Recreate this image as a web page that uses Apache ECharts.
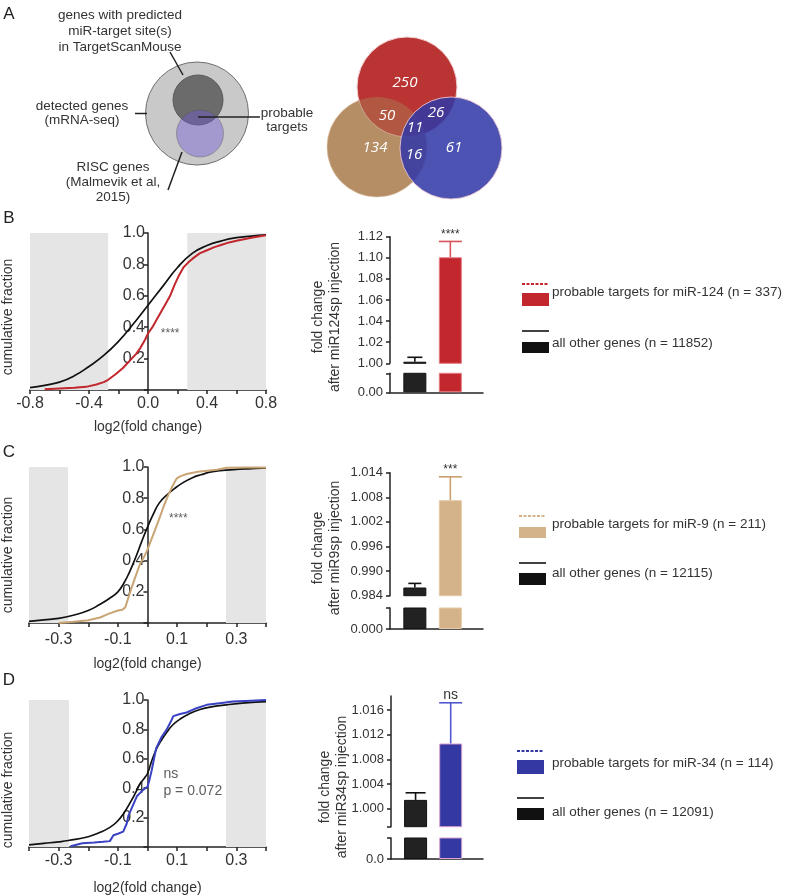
<!DOCTYPE html>
<html><head><meta charset="utf-8">
<script src="https://cdn.jsdelivr.net/npm/echarts@6/dist/echarts.min.js"></script>
<style>html,body{margin:0;padding:0;background:#fff}#c{width:787px;height:896px}</style>
</head><body><div id="c"></div>
<script>
const FONT = 'Liberation Sans, Arial, Helvetica, sans-serif';

// ---------- Panel A ----------
const schematicLabels = ['genes with predicted\nmiR-target site(s)\nin TargetScanMouse', 'detected genes\n(mRNA-seq)', 'probable\ntargets', 'RISC genes\n(Malmevik et al,\n2015)'];
const vennCounts = ['250', '50', '26', '11', '134', '16', '61'];

// ---------- Panel B (miR-124) ----------
const bAllGenes = [[-0.8,0.015],[-0.7,0.03],[-0.6,0.05],[-0.5,0.09],[-0.4,0.15],[-0.3,0.22],[-0.2,0.31],[-0.1,0.42],[0,0.54],[0.1,0.66],[0.2,0.78],[0.3,0.87],[0.4,0.92],[0.5,0.95],[0.6,0.97],[0.7,0.98],[0.8,0.988]];
const bTargets = [[-0.7,0.005],[-0.6,0.01],[-0.5,0.015],[-0.42,0.02],[-0.35,0.035],[-0.3,0.05],[-0.27,0.065],[-0.22,0.1],[-0.17,0.14],[-0.12,0.19],[-0.08,0.23],[-0.05,0.27],[-0.02,0.32],[0,0.36],[0.03,0.4],[0.06,0.45],[0.09,0.5],[0.12,0.55],[0.15,0.6],[0.18,0.67],[0.21,0.73],[0.24,0.78],[0.27,0.81],[0.3,0.835],[0.35,0.87],[0.4,0.89],[0.45,0.91],[0.5,0.925],[0.55,0.94],[0.6,0.95],[0.65,0.96],[0.7,0.97],[0.75,0.978],[0.8,0.985]];
const bBarMean = [1.0015, 1.1005];
const bBarSem = [0.0042, 0.015];
const bSig = ['', '****'];
const bLegend = ['probable targets for miR-124 (n = 337)', 'all other genes (n = 11852)'];

// ---------- Panel C (miR-9) ----------
const cAllGenes = [[-0.4,0.01],[-0.35,0.02],[-0.3,0.03],[-0.25,0.05],[-0.2,0.08],[-0.16,0.12],[-0.13,0.155],[-0.1,0.2],[-0.08,0.255],[-0.06,0.33],[-0.04,0.42],[-0.02,0.52],[0,0.615],[0.02,0.7],[0.04,0.77],[0.065,0.82],[0.09,0.86],[0.12,0.9],[0.15,0.93],[0.18,0.95],[0.22,0.97],[0.29,0.983],[0.35,0.99],[0.4,0.995]];
const cTargets = [[-0.3,0.0],[-0.25,0.008],[-0.2,0.018],[-0.16,0.035],[-0.13,0.06],[-0.1,0.08],[-0.085,0.085],[-0.075,0.1],[-0.065,0.16],[-0.053,0.23],[-0.04,0.3],[-0.025,0.38],[-0.01,0.43],[0,0.47],[0.01,0.52],[0.02,0.57],[0.03,0.62],[0.042,0.68],[0.055,0.75],[0.07,0.82],[0.085,0.88],[0.098,0.925],[0.11,0.94],[0.132,0.955],[0.17,0.97],[0.234,0.983],[0.267,0.995],[0.33,0.996],[0.4,0.997]];
const cBarMean = [0.986, 1.0073];
const cBarSem = [0.001, 0.0057];
const cSig = ['', '***'];
const cLegend = ['probable targets for miR-9 (n = 211)', 'all other genes (n = 12115)'];

// ---------- Panel D (miR-34) ----------
const dAllGenes = [[-0.4,0.015],[-0.35,0.025],[-0.3,0.035],[-0.267,0.044],[-0.2,0.07],[-0.16,0.1],[-0.13,0.13],[-0.104,0.17],[-0.08,0.23],[-0.059,0.3],[-0.04,0.37],[-0.025,0.43],[-0.01,0.47],[0,0.5],[0.015,0.59],[0.031,0.67],[0.048,0.73],[0.065,0.78],[0.085,0.83],[0.11,0.87],[0.14,0.905],[0.177,0.935],[0.22,0.955],[0.265,0.967],[0.33,0.98],[0.4,0.989]];
const dTargets = [[-0.26,0.005],[-0.24,0.015],[-0.22,0.025],[-0.18,0.03],[-0.15,0.035],[-0.127,0.04],[-0.115,0.08],[-0.1,0.09],[-0.082,0.105],[-0.07,0.16],[-0.065,0.21],[-0.05,0.28],[-0.036,0.345],[-0.014,0.39],[0,0.41],[0.007,0.46],[0.014,0.52],[0.022,0.6],[0.029,0.67],[0.048,0.75],[0.065,0.8],[0.078,0.85],[0.087,0.89],[0.11,0.905],[0.132,0.915],[0.16,0.94],[0.2,0.967],[0.25,0.98],[0.29,0.989],[0.35,0.995],[0.4,1.0]];
const dBarMean = [1.00145, 1.0106];
const dBarSem = [0.00115, 0.0066];
const dSig = ['', 'ns'];
const dBarTicks = [1.000, 1.004, 1.008, 1.012, 1.016];
const dLegend = ['probable targets for miR-34 (n = 114)', 'all other genes (n = 12091)'];

const barGroups = ['all other genes', 'probable targets'];

// ---------- builders ----------
const grids = [], xAxes = [], yAxes = [], series = [], graphics = [];
const AX = {color: '#222', width: 1.5};
const TXT = '#333';

function addCdf(o) {
  const gi = grids.length;
  grids.push({left: o.box[0], top: o.box[1], width: o.box[2], height: o.box[3]});
  xAxes.push({gridIndex: gi, type: 'value', min: o.xr[0], max: o.xr[1], interval: o.xi,
    name: 'log2(fold change)', nameLocation: 'middle', nameGap: o.nameGap,
    nameTextStyle: {fontSize: 14, color: TXT, fontFamily: FONT},
    axisLine: {onZero: false, lineStyle: AX}, axisTick: {length: 4, lineStyle: AX},
    axisLabel: {margin: o.labelMargin, fontSize: 16, color: TXT, fontFamily: FONT, formatter: o.xFmt},
    splitLine: {show: false}});
  // y axis sits at x = 0: shift it from the grid's left edge by the scale position of zero
  const zeroShift = o.box[2] * (0 - o.xr[0]) / (o.xr[1] - o.xr[0]);
  yAxes.push({gridIndex: gi, type: 'value', min: 0, max: 1, interval: 0.2, offset: -zeroShift,
    axisLine: {onZero: false, lineStyle: AX}, axisTick: {length: 4, lineStyle: AX},
    axisLabel: {margin: 3, fontSize: 16, color: TXT, fontFamily: FONT, formatter: v => v < 0.01 ? '' : v.toFixed(1)},
    splitLine: {show: false}});
  series.push({type: 'line', xAxisIndex: gi, yAxisIndex: gi, data: [], z: 1, silent: true,
    markArea: {silent: true, itemStyle: {color: '#e5e5e5'},
      data: [[{coord: [o.xr[0], 0]}, {coord: [o.shade[0], 1]}], [{coord: [o.shade[1], 0]}, {coord: [o.xr[1], 1]}]]}});
  series.push({type: 'line', xAxisIndex: gi, yAxisIndex: gi, data: o.all, smooth: true, symbol: 'none',
    lineStyle: {color: '#111', width: 1.7}, z: 3, silent: true});
  series.push({type: 'line', xAxisIndex: gi, yAxisIndex: gi, data: o.tgt, symbol: 'none',
    lineStyle: {color: o.color, width: 2}, z: 4, silent: true});
  series.push({type: 'scatter', xAxisIndex: gi, yAxisIndex: gi, data: [o.stat.pos], symbolSize: 1,
    itemStyle: {color: 'rgba(0,0,0,0)'}, z: 5, silent: true,
    label: {show: true, position: o.stat.position, distance: 0, formatter: o.stat.text, color: TXT,
      fontSize: o.stat.size, fontFamily: FONT, lineHeight: 17, align: o.stat.align}});
}

function addBars(o) {
  const xr = [-0.7, 1.92];
  const gu = grids.length;
  grids.push({left: o.left, top: o.upper[0], width: o.width, height: o.upper[1]});
  xAxes.push({gridIndex: gu, type: 'value', min: xr[0], max: xr[1], show: false});
  const ya = {gridIndex: gu, type: 'value', min: o.yr[0], max: o.yr[1],
    axisLine: {show: true, onZero: false, lineStyle: AX}, axisTick: {show: true, length: 4, lineStyle: AX},
    axisLabel: {margin: 7, fontSize: 13, color: TXT, fontFamily: FONT, formatter: v => v.toFixed(o.dec)},
    splitLine: {show: false}};
  if (o.yi) ya.interval = o.yi;
  if (o.ticks) { ya.axisLabel.customValues = o.ticks; ya.axisTick.customValues = [o.yr[0]].concat(o.ticks); }
  yAxes.push(ya);
  const gl = grids.length;
  grids.push({left: o.left, top: o.lower[0], width: o.width, height: o.lower[1]});
  xAxes.push({gridIndex: gl, type: 'value', min: xr[0], max: xr[1],
    axisLine: {show: true, onZero: false, lineStyle: AX}, axisTick: {show: false}, axisLabel: {show: false}, splitLine: {show: false}});
  yAxes.push({gridIndex: gl, type: 'value', min: 0, max: 0.5, interval: 0.5,
    axisLine: {show: true, onZero: false, lineStyle: AX}, axisTick: {show: true, length: 4, lineStyle: AX},
    axisLabel: {margin: 7, fontSize: 13, color: TXT, fontFamily: FONT, formatter: v => v === 0 ? o.zero : ''},
    splitLine: {show: false}});
  const barData = o.mean.map((m, i) => ({name: barGroups[i], value: [i, m],
    itemStyle: {color: o.fill[i], borderColor: o.border[i], borderWidth: 1}}));
  series.push({type: 'bar', xAxisIndex: gu, yAxisIndex: gu, data: barData, barWidth: 23, clip: true, silent: true});
  series.push({type: 'bar', xAxisIndex: gl, yAxisIndex: gl, data: barData, barWidth: 23, clip: true, silent: true});
  series.push({type: 'custom', xAxisIndex: gu, yAxisIndex: gu, z: 4, silent: true, clip: false,
    data: o.mean.map((m, i) => [i, m, o.sem[i]]),
    encode: {x: 0, y: 1},
    renderItem: (params, api) => {
      const i = params.dataIndex;
      const x = api.value(0), m = api.value(1), s = api.value(2);
      const a = api.coord([x, m]), b = api.coord([x, m + s]);
      const hw = o.capW[i] / 2;
      const st = {stroke: o.err[i], lineWidth: 1.6};
      const ch = [
        {type: 'line', shape: {x1: a[0], y1: a[1], x2: b[0], y2: b[1]}, style: st},
        {type: 'line', shape: {x1: b[0] - hw, y1: b[1], x2: b[0] + hw, y2: b[1]}, style: st}];
      if (o.sig[i]) ch.push({type: 'text', x: b[0], y: b[1] - 1,
        style: {text: o.sig[i], align: 'center', verticalAlign: 'bottom', fontSize: o.sigSize, fontFamily: FONT, fill: TXT}});
      return {type: 'group', children: ch};
    }});
  graphics.push({type: 'text', x: o.title[0], y: o.title[1], rotation: Math.PI / 2,
    style: {text: o.titleText, align: 'center', verticalAlign: 'middle', fontSize: 14, lineHeight: 17, fontFamily: FONT, fill: TXT}});
}

function addLegend(x, ys, color, labels) {
  const [yl, yr1, yr2, yb, ybr1, ybr2, yt1, yt2] = ys;
  graphics.push({type: 'line', shape: {x1: x, y1: yl, x2: x + 27, y2: yl}, style: {stroke: color, lineWidth: 2, lineDash: [3, 1.5]}});
  graphics.push({type: 'rect', shape: {x: x, y: yr1, width: 27, height: yr2 - yr1}, style: {fill: color}});
  graphics.push({type: 'line', shape: {x1: x, y1: yb, x2: x + 27, y2: yb}, style: {stroke: '#111', lineWidth: 1.6}});
  graphics.push({type: 'rect', shape: {x: x, y: ybr1, width: 27, height: ybr2 - ybr1}, style: {fill: '#111'}});
  graphics.push({type: 'text', x: 552, y: yt1, style: {text: labels[0], verticalAlign: 'middle', fontSize: 13.5, fontFamily: FONT, fill: TXT}});
  graphics.push({type: 'text', x: 552, y: yt2, style: {text: labels[1], verticalAlign: 'middle', fontSize: 13.5, fontFamily: FONT, fill: TXT}});
}

const RED = '#c1272d', TAN = '#d4b38a', BLUE = '#3438a2';

// B
addCdf({box: [30, 233, 236, 157], xr: [-0.8, 0.8], xi: 0.2, nameGap: 30, labelMargin: 6,
  xFmt: v => (Math.abs(Math.round(v * 10)) % 4 === 0) ? (Math.abs(v) < 1e-9 ? '0.0' : v.toFixed(1)) : '',
  shade: [-0.27, 0.266], all: bAllGenes, tgt: bTargets, color: RED,
  stat: {pos: [0.15, 0.36], text: '****', size: 12, position: 'inside', align: 'center'}});
addBars({left: 390, width: 93, upper: [236.7, 126.6], lower: [373.3, 19], yr: [1.00, 1.12], yi: 0.02, dec: 2, zero: '0.00',
  mean: bBarMean, sem: bBarSem, fill: ['#222', RED], border: ['#111', '#e57a80'], err: ['#111', '#d9545a'], capW: [15, 23],
  sig: bSig, sigSize: 12, title: [326.5, 317], titleText: 'fold change\nafter miR124sp injection'});
addLegend(522, [284, 293, 306, 331, 342, 353, 292, 343], RED, bLegend);

// C
const oddFmt = v => { const k = Math.round(v * 10); return (Math.abs(k) % 2 === 1) ? v.toFixed(1) : ''; };
addCdf({box: [29, 467, 237, 156], xr: [-0.4, 0.4], xi: 0.1, nameGap: 34, labelMargin: 9, xFmt: oddFmt,
  shade: [-0.268, 0.265], all: cAllGenes, tgt: cTargets, color: '#c9a574',
  stat: {pos: [0.104, 0.67], text: '****', size: 12, position: 'inside', align: 'center'}});
addBars({left: 390, width: 93, upper: [472.7, 123], lower: [608, 21], yr: [0.984, 1.014], yi: 0.006, dec: 3, zero: '0.000',
  mean: cBarMean, sem: cBarSem, fill: ['#222', TAN], border: ['#111', '#e3c9a5'], err: ['#111', '#c9a070'], capW: [13, 23],
  sig: cSig, sigSize: 12, title: [326.5, 548], titleText: 'fold change\nafter miR9sp injection'});
addLegend(519, [516, 527, 538, 563, 573, 585, 524, 573], TAN, cLegend);

// D
addCdf({box: [29, 700, 237, 152.7], xr: [-0.4, 0.4], xi: 0.1, nameGap: 34, labelMargin: 6, xFmt: oddFmt,
  shade: [-0.265, 0.265], all: dAllGenes, tgt: dTargets, color: '#3a42c4',
  stat: {pos: [0.052, 0.44], text: 'ns\np = 0.072', size: 14, position: 'right', align: 'left'}});
addBars({left: 391, width: 92, upper: [696, 130.7], lower: [838, 21], yr: [0.9971, 1.0183], ticks: dBarTicks, dec: 3, zero: '0.0',
  mean: dBarMean, sem: dBarSem, fill: ['#222', BLUE], border: ['#111', '#d9a0d0'], err: ['#111', '#5058d0'], capW: [20, 23],
  sig: dSig, sigSize: 14, title: [334, 787], titleText: 'fold change\nafter miR34sp injection'});
addLegend(517, [751, 760, 774, 798, 808, 820, 763, 812], BLUE, dLegend);

// CDF y titles and panel letters
[[8, 317], [8, 555], [8, 790]].forEach(p => graphics.push({type: 'text', x: p[0], y: p[1], rotation: Math.PI / 2,
  style: {text: 'cumulative fraction', align: 'center', verticalAlign: 'middle', fontSize: 14, fontFamily: FONT, fill: TXT}}));
[['A', 9, 14], ['B', 9, 218], ['C', 9, 452], ['D', 9, 680]].forEach(p => graphics.push({type: 'text', x: p[1], y: p[2],
  style: {text: p[0], align: 'center', verticalAlign: 'middle', fontSize: 17, fontFamily: FONT, fill: '#222'}}));

// Panel A schematic
graphics.push(
  {type: 'circle', shape: {cx: 197, cy: 113.5, r: 51.5}, style: {fill: '#c9c9c9', stroke: '#707070', lineWidth: 1}},
  {type: 'circle', shape: {cx: 198, cy: 100, r: 25}, style: {fill: '#6b6b6b', stroke: '#5a5a5a', lineWidth: 1}},
  {type: 'circle', shape: {cx: 200, cy: 133.5, r: 23.5}, style: {fill: '#7257d6', opacity: 0.42, stroke: '#555', lineWidth: 1}},
  {type: 'line', shape: {x1: 135, y1: 113.5, x2: 147, y2: 113.5}, style: {stroke: '#222', lineWidth: 1.5}},
  {type: 'line', shape: {x1: 170, y1: 52, x2: 183, y2: 75}, style: {stroke: '#222', lineWidth: 1.5}},
  {type: 'line', shape: {x1: 198, y1: 117, x2: 260, y2: 117}, style: {stroke: '#222', lineWidth: 1.5}},
  {type: 'line', shape: {x1: 182, y1: 152, x2: 168, y2: 190}, style: {stroke: '#222', lineWidth: 1.5}}
);
[[schematicLabels[0], 120, 31, 16], [schematicLabels[1], 82, 113.5, 14], [schematicLabels[2], 287, 120, 14], [schematicLabels[3], 113, 182, 15]]
  .forEach(t => graphics.push({type: 'text', x: t[1], y: t[2],
    style: {text: t[0], align: 'center', verticalAlign: 'middle', fontSize: 13.5, lineHeight: t[3], fontFamily: FONT, fill: TXT}}));

// Venn
graphics.push(
  {type: 'circle', shape: {cx: 377, cy: 147, r: 50}, style: {fill: '#c4a27c', stroke: '#f3e3d3', lineWidth: 1}},
  {type: 'circle', shape: {cx: 407, cy: 87, r: 50}, style: {fill: '#bb3434', stroke: '#f3d3d3', lineWidth: 1}},
  {type: 'circle', shape: {cx: 377, cy: 147, r: 50}, style: {fill: '#a87a50', opacity: 0.5}},
  {type: 'circle', shape: {cx: 451, cy: 148, r: 51}, style: {fill: '#3339a6', opacity: 0.87, stroke: '#f0c8d2', lineWidth: 1}}
);
const vennPos = [[405, 83], [387, 116], [436, 113], [415, 128], [375, 148], [414, 155], [454, 148]];
vennCounts.forEach((t, i) => graphics.push({type: 'text', x: vennPos[i][0], y: vennPos[i][1],
  style: {text: t, align: 'center', verticalAlign: 'middle', fontSize: 15, fontStyle: 'italic', fontFamily: 'Open Sans, ' + FONT, fill: '#fff'}}));

const chart = echarts.init(document.getElementById('c'));
chart.setOption({
  animation: false,
  backgroundColor: '#fff',
  textStyle: {fontFamily: FONT},
  grid: grids, xAxis: xAxes, yAxis: yAxes, series: series,
  graphic: {elements: graphics}
});
</script></body></html>
